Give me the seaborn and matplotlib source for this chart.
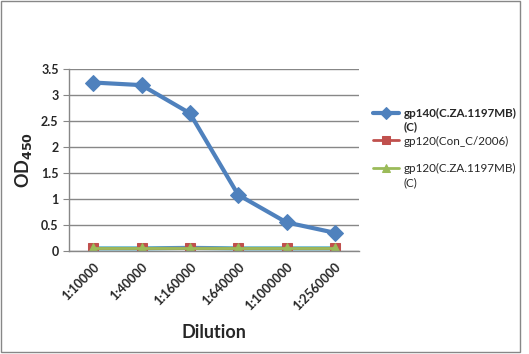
import pandas as pd
import seaborn as sns
import matplotlib.pyplot as plt
from matplotlib.patches import Rectangle

# Data
dilutions = ['1:10000', '1:40000', '1:160000', '1:640000', '1:1000000', '1:2560000']
gp140_cza = [3.24, 3.19, 2.65, 1.08, 0.55, 0.35]
gp120_con = [0.05, 0.05, 0.05, 0.05, 0.05, 0.05]
gp120_cza = [0.05, 0.05, 0.05, 0.05, 0.05, 0.05]
extra_a = [0.05, 0.05, 0.06, 0.05, 0.05, 0.05]
extra_b = [0.05, 0.05, 0.06, 0.05, 0.05, 0.05]

series_names = ['gp140(C.ZA.1197MB)', 'gp120(Con_C/2006)',
                'gp120(C.ZA.1197MB)', 'extra_a', 'extra_b']
series_values = [gp140_cza, gp120_con, gp120_cza, extra_a, extra_b]
colors = ['#4F81BD', '#C0504D', '#9BBB59', '#8064A2', '#4BACC6']
markers = ['D', 's', '^', 'X', '*']

rows = []
for name, vals in zip(series_names, series_values):
    for d, v in zip(dilutions, vals):
        rows.append({'Dilution': d, 'OD': v, 'Series': name})
df = pd.DataFrame(rows)

sns.set_style('white')
plt.rcParams['font.family'] = ['Lato', 'DejaVu Sans']

W, H = 529, 354
fig = plt.figure(figsize=(W / 100, H / 100), dpi=100)
ax = fig.add_axes([69 / W, 1 - 251 / H, 290 / W, 182 / H])

# draw back to front so the blue series sits on top
order = [4, 3, 1, 2, 0]
for i in order:
    sub = df[df['Series'] == series_names[i]]
    sns.lineplot(data=sub, x='Dilution', y='OD', ax=ax, color=colors[i],
                 marker=markers[i], markersize=7 if i > 0 else 8,
                 markeredgecolor=colors[i], linewidth=3 if i in (0, 4) else 2,
                 label=series_names[i] if i < 3 else None, sort=False)

ax.set_xlim(-0.5, len(dilutions) - 0.5)
ax.set_ylim(0, 3.5)
ax.set_yticks([0, 0.5, 1, 1.5, 2, 2.5, 3, 3.5])
ax.set_yticklabels(['0', '0.5', '1', '1.5', '2', '2.5', '3', '3.5'])
ax.yaxis.grid(True, color='#878787', linewidth=1)
ax.xaxis.grid(False)
for s in ['top', 'right']:
    ax.spines[s].set_visible(False)
for s in ['left', 'bottom']:
    ax.spines[s].set_color('#878787')
    ax.spines[s].set_linewidth(1)
ax.tick_params(axis='y', left=True, length=4, color='#878787', labelsize=9)
ax.tick_params(axis='x', bottom=False, labelsize=9)
for lab in ax.get_yticklabels():
    lab.set_fontweight('bold')
ax.set_xticks(range(len(dilutions)))
ax.set_xticklabels(dilutions, rotation=45, ha='right', rotation_mode='anchor',
                   fontweight='bold')

ax.set_xlabel('Dilution', fontsize=13, fontweight='bold', labelpad=8)
ax.set_ylabel('OD$_{\\mathbf{450}}$', fontsize=13, fontweight='bold', labelpad=5)

handles, labels = ax.get_legend_handles_labels()
lut = dict(zip(labels, handles))
leg_labels = series_names[:3]
if ax.get_legend():
    ax.get_legend().remove()


def make_legend(fs, anchor):
    lg = fig.legend([lut[l] for l in leg_labels], leg_labels,
                    loc='upper left', bbox_to_anchor=anchor,
                    frameon=False, fontsize=fs, handlelength=2.2,
                    labelspacing=1.45, handletextpad=0.4, markerscale=0.8)
    lg.get_texts()[0].set_fontweight('bold')
    return lg


# size the legend so it spans the same room as in the reference
fs = 8.0
anchor = (364 / W, 1 - 98 / H)
for _ in range(3):
    leg = make_legend(fs, anchor)
    fig.canvas.draw()
    bb = leg.get_texts()[1].get_window_extent()
    width = bb.x1 - bb.x0
    dx = 403 - bb.x0
    b0 = leg.get_texts()[0].get_window_extent()
    dy = (H - 113) - (b0.y0 + b0.y1) / 2
    leg.remove()
    fs = fs * 105 / width
    anchor = (anchor[0] + dx / W, anchor[1] + dy / H)

leg = make_legend(fs, anchor)
fig.canvas.draw()

# second line "(C)" under the two long labels, as Excel wraps them
inv = fig.transFigure.inverted()
for idx, bold in [(0, 'bold'), (2, 'normal')]:
    bb = leg.get_texts()[idx].get_window_extent()
    x0, y0 = inv.transform((bb.x0, bb.y0))
    fig.text(x0, y0 - 3 / H, '(C)', fontsize=fs, fontweight=bold,
             ha='left', va='top')

fig.patches.append(Rectangle((0.002, 0.006), 0.981, 0.99, transform=fig.transFigure,
                             fill=False, edgecolor='#878787', linewidth=1))

fig.savefig('out.png', dpi=100)
